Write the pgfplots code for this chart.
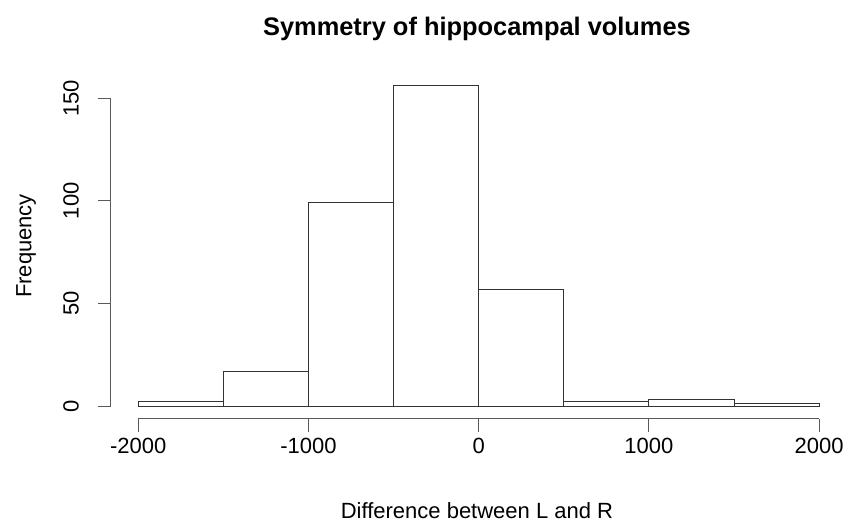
\documentclass[border=0pt]{standalone}
\usepackage{pgfplots}
\pgfplotsset{compat=1.18}
\usepackage{fontspec}
\setmainfont{Liberation Sans}
\begin{document}
\begin{tikzpicture}[font=\fontsize{11}{13}\selectfont]
\begin{axis}[
  scale only axis, width=366pt, height=172.8pt,
  xmin=-2160, xmax=2140, ymin=-6.24, ymax=162.24,
  axis line style={draw=none},
  tick pos=left, tick align=outside, major tick length=6.5pt,
  tick style={black!65, line width=0.5pt},
  xtick={-2000,-1000,0,1000,2000},
  ytick={0,50,100,150},
  /pgf/number format/assume math mode=true,
  /pgf/number format/.cd, set thousands separator={}, /pgfplots/.cd,
  xticklabel style={yshift=0.5pt},
  yticklabel style={xshift=-6pt, rotate=90, anchor=south},
  title={\bfseries\fontsize{12.7}{15}\selectfont Symmetry of hippocampal volumes},
  title style={at={(axis description cs:0.5,1.094)}, anchor=center},
  xlabel={Difference between L and R},
  xlabel style={at={(axis description cs:0.5,-0.266)}, anchor=center},
  ylabel={Frequency},
  ylabel style={at={(axis description cs:-0.116,0.5)}, anchor=center, rotate=0},
  clip=false,
]
  \addplot[ybar interval, fill=white, draw=black!80, line width=0.5pt]
    coordinates {(-2000,2) (-1500,17) (-1000,99) (-500,156) (0,57)
                 (500,2) (1000,3) (1500,1) (2000,1)};
  % R-style axis lines, only across the tick range
  \draw[black!65, line width=0.5pt] (axis cs:-2000,-6.24) -- (axis cs:2000,-6.24);
  \draw[black!65, line width=0.5pt] (axis cs:-2160,0) -- (axis cs:-2160,150);
  \coordinate (bbl) at (axis description cs:-0.1516,-0.2957);
  \coordinate (bbr) at (axis description cs:1.0,1.2118);
\end{axis}
\pgfresetboundingbox
\useasboundingbox (bbl) rectangle (bbr);
\end{tikzpicture}
\end{document}
